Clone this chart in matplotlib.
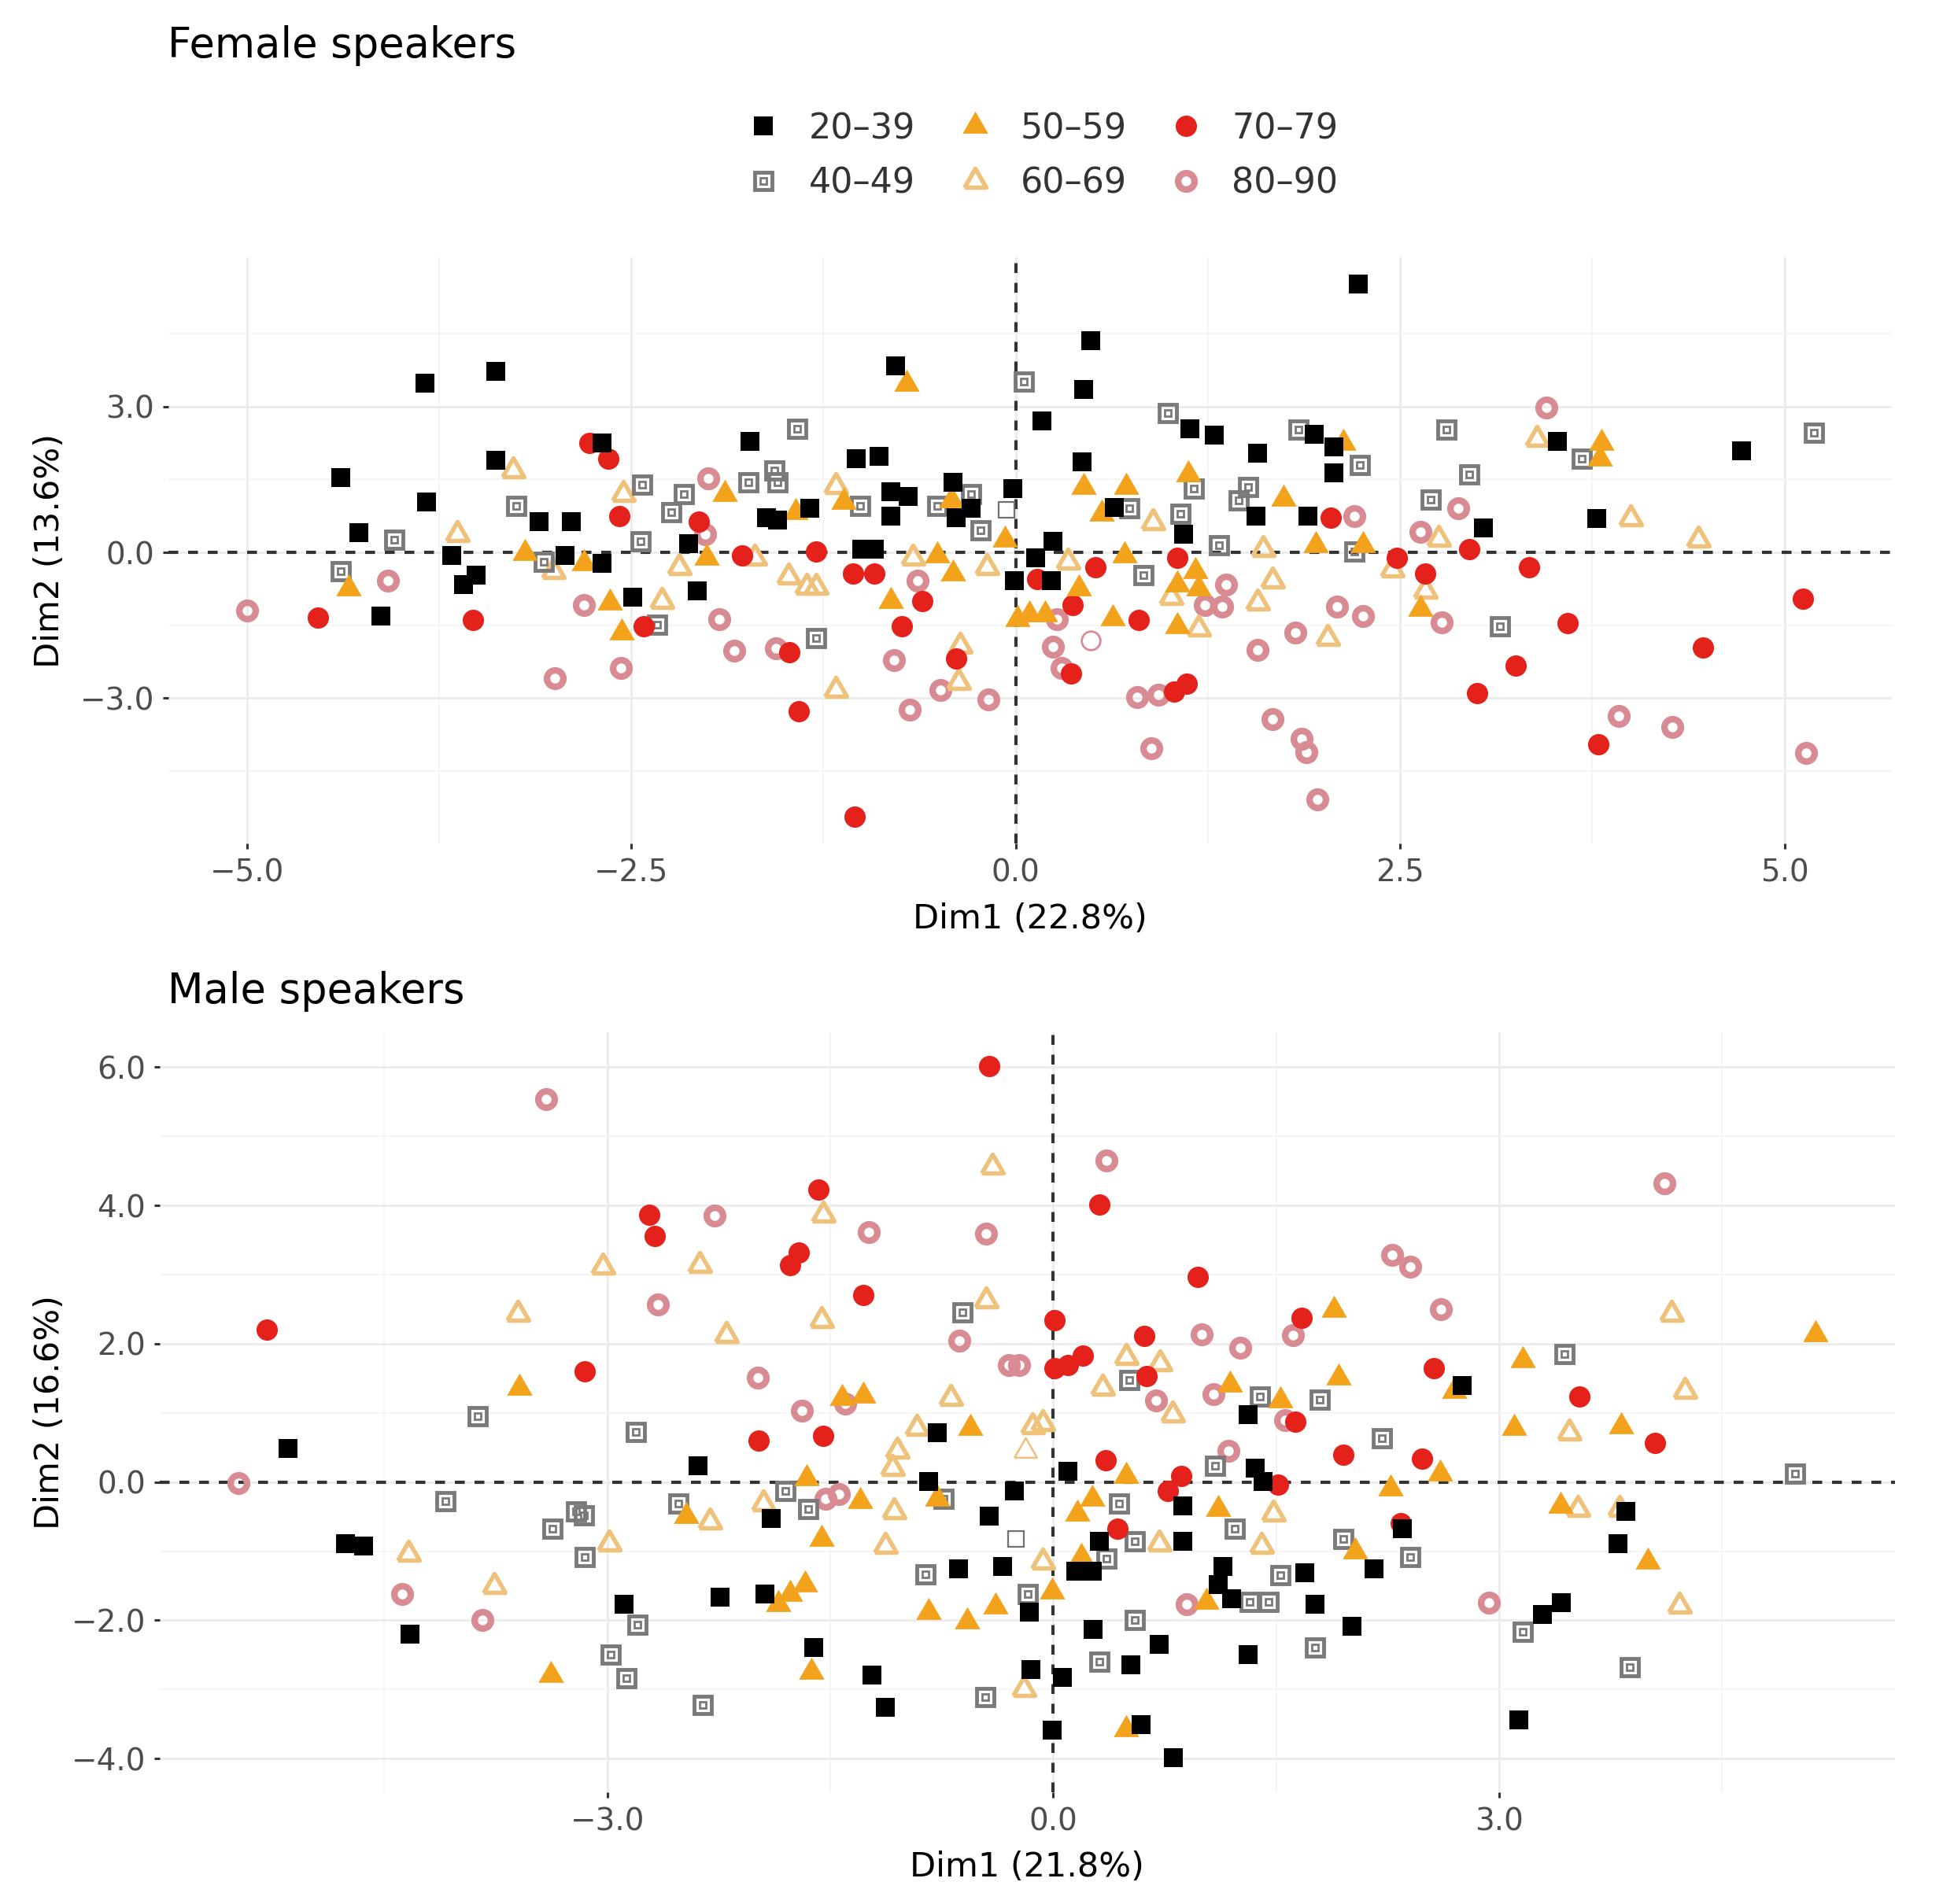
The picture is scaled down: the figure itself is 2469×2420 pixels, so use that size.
import matplotlib
matplotlib.use("Agg")
import matplotlib.pyplot as plt
from matplotlib.lines import Line2D
from matplotlib.legend_handler import HandlerTuple
import numpy as np

plt.rcParams["font.family"] = ["DejaVu Sans"]
plt.rcParams["axes.unicode_minus"] = True

age_groups = ["20–39", "40–49", "50–59", "60–69", "70–79", "80–90"]

# ---------------- Female speakers (Dim1, Dim2) ----------------
f_20_39 = [(-4.39, 1.54), (-3.84, 3.49), (-3.38, 3.72), (-3.38, 1.89), (-3.83, 1.03), (-4.27, 0.40),
           (-3.67, -0.07), (-3.51, -0.47), (-3.59, -0.67), (-4.13, -1.32), (-3.10, 0.63), (-2.89, 0.63),
           (-2.93, -0.07), (-2.69, -0.23), (-2.69, 2.25), (-2.49, -0.92), (-2.13, 0.18), (-2.07, -0.80),
           (-1.73, 2.29), (-1.62, 0.71), (-1.55, 0.67), (-1.34, 0.91), (-1.04, 1.93), (-0.89, 1.97),
           (-0.78, 3.84), (-0.81, 1.24), (-0.70, 1.15), (-0.81, 0.75), (-1.00, 0.06), (-0.92, 0.06),
           (-0.41, 1.44), (-0.29, 0.91), (-0.39, 0.71), (-0.02, 1.32), (-0.01, -0.59), (0.13, -0.11),
           (0.24, 0.22), (0.23, -0.59), (0.17, 2.70), (0.44, 3.35), (0.49, 4.36), (0.43, 1.86),
           (0.64, 0.93), (1.09, 0.38), (1.13, 2.55), (1.29, 2.42), (1.56, 0.75), (1.57, 2.04),
           (1.90, 0.75), (1.94, 2.43), (2.07, 2.17), (2.07, 1.64), (2.23, 5.52), (3.04, 0.50),
           (3.52, 2.29), (3.78, 0.69), (4.72, 2.09)]
f_40_49 = [(-4.04, 0.26), (-3.25, 0.95), (-3.07, -0.19), (-4.39, -0.39), (-2.43, 1.40), (-2.44, 0.22),
           (-2.16, 1.20), (-2.24, 0.83), (-1.74, 1.44), (-1.57, 1.68), (-1.55, 1.44), (-1.42, 2.54),
           (-2.33, -1.49), (-1.30, -1.77), (-1.01, 0.95), (-0.51, 0.95), (-0.29, 1.20), (-0.23, 0.46),
           (0.05, 3.51), (0.74, 0.91), (0.83, -0.47), (0.99, 2.87), (1.07, 0.79), (1.16, 1.31),
           (1.32, 0.14), (1.45, 1.07), (1.51, 1.35), (1.84, 2.53), (2.24, 1.80), (2.20, 0.02),
           (2.70, 1.09), (2.80, 2.53), (2.95, 1.60), (3.15, -1.52), (3.68, 1.93), (5.19, 2.46)]
f_50_59 = [(-4.34, -0.75), (-3.19, -0.02), (-2.81, -0.23), (-2.64, -1.04), (-2.56, -1.65), (-2.01, -0.11),
           (-1.89, 1.20), (-1.43, 0.83), (-1.12, 1.03), (-0.81, -1.00), (-0.71, 3.47), (-0.42, 1.07),
           (-0.51, -0.07), (-0.41, -0.43), (-0.07, 0.26), (0.01, -1.37), (0.09, -1.28), (0.19, -1.28),
           (0.41, -0.75), (0.44, 1.35), (0.72, 1.35), (0.56, 0.79), (0.71, -0.06), (0.63, -1.36),
           (1.12, 1.60), (1.17, -0.39), (1.05, -0.67), (1.19, -0.75), (1.05, -1.52), (1.74, 1.11),
           (1.95, 0.14), (2.26, 0.14), (2.13, 2.25), (2.63, -1.16), (3.81, 2.25), (3.80, 1.93)]
f_60_69 = [(-3.27, 1.68), (-3.63, 0.38), (-3.01, -0.39), (-2.55, 1.20), (-2.19, -0.31), (-2.30, -1.00),
           (-1.70, -0.11), (-1.48, -0.51), (-1.36, -0.72), (-1.30, -0.72), (-1.17, 1.36), (-1.17, -2.83),
           (-0.67, -0.11), (-0.36, -1.93), (-0.37, -2.67), (-0.19, -0.31), (0.34, -0.19), (0.89, 0.62),
           (1.01, -0.92), (1.19, -1.57), (1.61, 0.06), (1.67, -0.59), (1.57, -1.04), (2.03, -1.77),
           (2.45, -0.35), (2.75, 0.28), (2.66, -0.79), (3.39, 2.33), (4.00, 0.69), (4.44, 0.26)]
f_70_79 = [(-4.54, -1.34), (-3.53, -1.40), (-2.77, 2.25), (-2.65, 1.93), (-2.58, 0.75), (-2.42, -1.53),
           (-2.06, 0.63), (-1.78, -0.07), (-1.30, 0.02), (-1.47, -2.06), (-1.41, -3.28), (-1.05, -5.45),
           (-1.06, -0.43), (-0.92, -0.43), (-0.61, -1.00), (-0.74, -1.53), (-0.39, -2.18), (0.14, -0.55),
           (0.37, -1.08), (0.36, -2.50), (0.52, -0.31), (0.80, -1.40), (1.05, -0.11), (1.03, -2.86),
           (1.11, -2.70), (2.05, 0.71), (2.48, -0.12), (2.66, -0.43), (2.95, 0.06), (3.00, -2.90),
           (3.25, -2.34), (3.34, -0.31), (3.59, -1.45), (3.79, -3.95), (4.47, -1.96), (5.12, -0.96)]
f_80_90 = [(-5.00, -1.20), (-4.08, -0.59), (-3.00, -2.59), (-2.81, -1.08), (-2.57, -2.38), (-2.02, 0.38),
           (-2.00, 1.52), (-1.93, -1.37), (-1.83, -2.02), (-1.56, -1.98), (-0.64, -0.59), (-0.79, -2.22),
           (-0.69, -3.24), (-0.49, -2.83), (-0.18, -3.03), (0.27, -1.37), (0.24, -1.94), (0.30, -2.38),
           (0.79, -2.98), (0.93, -2.94), (0.88, -4.04), (1.23, -1.08), (1.34, -1.12), (1.37, -0.67),
           (1.57, -2.01), (1.67, -3.43), (1.82, -1.65), (1.86, -3.84), (1.89, -4.12), (1.96, -5.09),
           (2.09, -1.12), (2.20, 0.75), (2.26, -1.32), (2.63, 0.42), (2.77, -1.44), (2.88, 0.91),
           (3.45, 2.98), (3.92, -3.37), (4.27, -3.59), (5.14, -4.13)]
# points drawn with a thin outline only
f_thin_square = [(-0.06, 0.87)]
f_thin_circle = [(0.49, -1.81)]

# ---------------- Male speakers (Dim1, Dim2) ----------------
m_20_39 = [(-5.15, 0.49), (-4.76, -0.89), (-4.64, -0.93), (-4.33, -2.20), (-2.89, -1.77), (-2.39, 0.23),
           (-2.24, -1.66), (-1.94, -1.62), (-1.90, -0.53), (-1.61, -2.39), (-1.22, -2.79), (-1.13, -3.26),
           (-0.84, 0.01), (-0.78, 0.71), (-0.26, -0.13), (-0.64, -1.26), (-0.43, -0.49), (-0.34, -1.22),
           (-0.16, -1.88), (-0.15, -2.71), (-0.01, -3.59), (0.06, -2.82), (0.10, 0.16), (0.15, -1.29),
           (0.26, -1.29), (0.27, -2.13), (0.31, -0.86), (0.52, -2.64), (0.59, -3.51), (0.71, -2.35),
           (0.81, -3.99), (0.87, -0.35), (0.87, -0.86), (1.11, -1.48), (1.14, -1.22), (1.20, -1.69),
           (1.31, 0.97), (1.31, -2.49), (1.36, 0.20), (1.41, 0.01), (1.69, -1.31), (1.76, -1.77),
           (2.01, -2.09), (2.16, -1.26), (2.35, -0.68), (2.75, 1.40), (3.13, -3.44), (3.29, -1.91),
           (3.42, -1.75), (3.80, -0.89), (3.85, -0.42)]
m_40_49 = [(-3.87, 0.95), (-4.09, -0.28), (-3.37, -0.68), (-3.21, -0.42), (-3.16, -0.48), (-3.15, -1.08),
           (-2.98, -2.50), (-2.87, -2.84), (-2.81, 0.73), (-2.80, -2.06), (-2.52, -0.31), (-2.36, -3.22),
           (-1.80, -0.13), (-1.65, -0.39), (-0.86, -1.33), (-0.74, -0.24), (-0.61, 2.45), (-0.46, -3.11),
           (-0.17, -1.62), (0.36, -1.11), (0.31, -2.60), (0.44, -0.31), (0.51, 1.47), (0.55, -0.86),
           (0.55, -1.99), (1.09, 0.23), (1.22, -0.68), (1.32, -1.73), (1.45, -1.73), (1.39, 1.24),
           (1.53, -1.35), (1.76, -2.39), (1.79, 1.19), (1.95, -0.82), (2.21, 0.63), (2.40, -1.08),
           (3.16, -2.17), (3.44, 1.85), (3.88, -2.68), (4.99, 0.12)]
m_50_59 = [(-3.59, 1.36), (-3.38, -2.79), (-2.47, -0.49), (-1.85, -1.77), (-1.77, -1.62), (-1.67, -1.48),
           (-1.66, 0.05), (-1.63, -2.75), (-1.56, -0.82), (-1.42, 1.21), (-1.28, 1.25), (-1.30, -0.28),
           (-0.84, -1.88), (-0.78, -0.24), (-0.58, -2.02), (-0.56, 0.78), (-0.39, -1.80), (-0.01, -1.59),
           (0.19, -1.08), (0.16, -0.46), (0.26, -0.24), (0.49, 0.09), (0.49, -3.58), (1.03, -1.73),
           (1.11, -0.39), (1.19, 1.41), (1.53, 1.18), (1.89, 2.49), (1.92, 1.51), (2.03, -1.00),
           (2.27, -0.09), (2.60, 0.12), (2.70, 1.32), (3.10, 0.78), (3.16, 1.76), (3.41, -0.35),
           (3.82, 0.81), (4.00, -1.15), (5.13, 2.14)]
m_60_69 = [(-4.34, -1.04), (-3.76, -1.51), (-3.60, 2.43), (-3.03, 3.11), (-2.99, -0.89), (-2.38, 3.14),
           (-2.31, -0.57), (-2.20, 2.12), (-1.95, -0.31), (-1.56, 2.34), (-1.55, 3.87), (-1.13, -0.93),
           (-1.07, -0.42), (-1.05, 0.45), (-1.08, 0.20), (-0.92, 0.78), (-0.69, 1.21), (-0.45, 2.63),
           (-0.41, 4.56), (-0.14, 0.81), (-0.07, 0.85), (-0.07, -1.15), (-0.20, -3.00), (0.33, 1.36),
           (0.49, 1.80), (0.72, 1.72), (0.71, -0.89), (0.80, 0.97), (1.40, -0.93), (1.48, -0.46),
           (3.47, 0.71), (3.53, -0.39), (3.81, -0.39), (4.16, 2.43), (4.21, -1.79), (4.25, 1.32)]
m_70_79 = [(-5.29, 2.20), (-3.15, 1.60), (-2.72, 3.87), (-2.68, 3.56), (-1.98, 0.60), (-1.77, 3.14),
           (-1.71, 3.32), (-1.58, 4.23), (-1.55, 0.67), (-1.28, 2.71), (-0.43, 6.01), (0.01, 2.34),
           (0.01, 1.65), (0.10, 1.69), (0.20, 1.83), (0.31, 4.01), (0.35, 0.31), (0.43, -0.68),
           (0.61, 2.11), (0.63, 1.53), (0.77, -0.13), (0.86, 0.09), (0.97, 2.97), (1.51, -0.04),
           (1.63, 0.87), (1.67, 2.38), (1.95, 0.39), (2.34, -0.60), (2.48, 0.34), (2.56, 1.65),
           (3.54, 1.24), (4.05, 0.56)]
m_80_90 = [(-5.48, -0.02), (-4.38, -1.62), (-3.84, -1.99), (-3.41, 5.54), (-2.66, 2.57), (-2.28, 3.85),
           (-1.99, 1.51), (-1.69, 1.03), (-1.53, -0.24), (-1.44, -0.17), (-1.40, 1.14), (-1.24, 3.61),
           (-0.63, 2.04), (-0.45, 3.59), (-0.23, 1.69), (-0.30, 1.69), (0.36, 4.65), (0.69, 1.18),
           (0.90, -1.77), (1.00, 2.14), (1.08, 1.27), (1.18, 0.45), (1.26, 1.94), (1.56, 0.89),
           (1.61, 2.12), (2.28, 3.29), (2.40, 3.11), (2.61, 2.50), (2.93, -1.75), (4.11, 4.32)]
m_thin_square = [(-0.25, -0.82)]
m_thin_triangle = [(-0.19, 0.45)]

# axis ticks / labels
f_xticks = [-5.0, -2.5, 0.0, 2.5, 5.0]
f_xminor = [-3.75, -1.25, 1.25, 3.75]
f_yticks = [-3.0, 0.0, 3.0]
f_yminor = [-4.5, -1.5, 1.5, 4.5]
m_xticks = [-3.0, 0.0, 3.0]
m_xminor = [-4.5, -1.5, 1.5, 4.5]
m_yticks = [-4.0, -2.0, 0.0, 2.0, 4.0, 6.0]
m_yminor = [-3.0, -1.0, 1.0, 3.0, 5.0]

# colours
GREY = "#7a7a7a"
ORANGE = "#f2a21b"
LIGHT_ORANGE = "#efc27c"
RED = "#e4221b"
PINK = "#d98b93"

# equilateral triangle, closed so the open version draws all three sides
TRI = [(-1.0, -0.577), (1.0, -0.577), (0.0, 1.155), (-1.0, -0.577)]

styles = {
    "20–39": dict(marker="s", markersize=17.5, markerfacecolor="black", markeredgecolor="black", markeredgewidth=0),
    "40–49": dict(marker="s", markersize=16, markerfacecolor="none", markeredgecolor=GREY, markeredgewidth=3.5),
    "50–59": dict(marker=TRI, markersize=26, markerfacecolor=ORANGE, markeredgecolor=ORANGE, markeredgewidth=0.5),
    "60–69": dict(marker=TRI, markersize=23, markerfacecolor="none", markeredgecolor=LIGHT_ORANGE, markeredgewidth=4),
    "70–79": dict(marker="o", markersize=19.5, markerfacecolor=RED, markeredgecolor=RED, markeredgewidth=0),
    "80–90": dict(marker="o", markersize=15, markerfacecolor="none", markeredgecolor=PINK, markeredgewidth=6),
}
inner_square = dict(marker="s", markersize=6, markerfacecolor="none", markeredgecolor=GREY, markeredgewidth=2)

draw_order = ["80–90", "60–69", "40–49", "70–79", "50–59", "20–39"]

TEXT_GREY = "#4d4d4d"


def expand(values):
    # ggplot style 5% expansion
    lo, hi = min(values), max(values)
    pad = (hi - lo) * 0.05
    return lo - pad, hi + pad


def draw_panel(ax, groups, thin, xticks, xminor, yticks, yminor, xlabel, ylabel):
    for name in draw_order:
        pts = np.array(groups[name])
        ax.plot(pts[:, 0], pts[:, 1], ls="none", zorder=3, **styles[name])
        if name == "40–49":
            ax.plot(pts[:, 0], pts[:, 1], ls="none", zorder=3, **inner_square)
    for pts, st in thin:
        pts = np.array(pts)
        ax.plot(pts[:, 0], pts[:, 1], ls="none", zorder=3, **st)

    allpts = np.vstack([np.array(g) for g in groups.values()])
    ax.set_xlim(*expand(allpts[:, 0]))
    ax.set_ylim(*expand(allpts[:, 1]))

    ax.axhline(0, color="#333333", lw=3.0, ls=(0, (3, 3)), zorder=2)
    ax.axvline(0, color="#333333", lw=3.0, ls=(0, (3, 3)), zorder=2)

    ax.set_xticks(xticks)
    ax.set_xticklabels([f"{v:.1f}".replace("-", "\u2212") for v in xticks])
    ax.set_yticks(yticks)
    ax.set_yticklabels([f"{v:.1f}".replace("-", "\u2212") for v in yticks])
    ax.set_xticks(xminor, minor=True)
    ax.set_yticks(yminor, minor=True)

    ax.grid(which="major", color="#ebebeb", lw=2.0)
    ax.grid(which="minor", color="#f3f3f3", lw=1.2)
    ax.set_axisbelow(True)
    for sp in ax.spines.values():
        sp.set_visible(False)
    ax.tick_params(which="major", length=5, width=2.2, color="#333333",
                   labelsize=28, labelcolor=TEXT_GREY, pad=8)
    ax.tick_params(which="minor", length=0)

    ax.set_xlabel(xlabel, fontsize=31, color="black")
    ax.set_ylabel(ylabel, fontsize=31, color="black")


fig = plt.figure(figsize=(24.69, 24.20), dpi=100)

# positions measured on the reference (pixels of a 1568 x 1537 view)
W, H = 1568.0, 1537.0
ax_f = fig.add_axes([136 / W, 1 - 681 / H, 1391 / W, 473 / H])
ax_m = fig.add_axes([129 / W, 1 - 1447 / H, 1400 / W, 614 / H])

female = {"20–39": f_20_39, "40–49": f_40_49, "50–59": f_50_59,
          "60–69": f_60_69, "70–79": f_70_79, "80–90": f_80_90}
male = {"20–39": m_20_39, "40–49": m_40_49, "50–59": m_50_59,
        "60–69": m_60_69, "70–79": m_70_79, "80–90": m_80_90}

thin_sq = dict(marker="s", markersize=15, markerfacecolor="white", markeredgecolor="#707070", markeredgewidth=1.6)
thin_circ = dict(marker="o", markersize=17, markerfacecolor="white", markeredgecolor=PINK, markeredgewidth=2.0)
thin_tri = dict(marker=TRI, markersize=24, markerfacecolor="white", markeredgecolor=LIGHT_ORANGE, markeredgewidth=1.8)

draw_panel(ax_f, female, [(f_thin_square, thin_sq), (f_thin_circle, thin_circ)],
           f_xticks, f_xminor, f_yticks, f_yminor, "Dim1 (22.8%)", "Dim2 (13.6%)")
draw_panel(ax_m, male, [(m_thin_square, thin_sq), (m_thin_triangle, thin_tri)],
           m_xticks, m_xminor, m_yticks, m_yminor, "Dim1 (21.8%)", "Dim2 (16.6%)")

# axis title positions
ax_f.xaxis.set_label_coords(0.5, -(742 - 681) / 473)
ax_f.xaxis.label.set_va("center")
ax_f.yaxis.set_label_coords((40 - 136) / 1391, 0.5)
ax_f.yaxis.label.set_va("center")
ax_m.xaxis.set_label_coords(0.5, -(1507 - 1447) / 614)
ax_m.xaxis.label.set_va("center")
ax_m.yaxis.set_label_coords((40 - 129) / 1400, 0.5)
ax_m.yaxis.label.set_va("center")

fig.text(135 / W, 1 - 37 / H, "Female speakers", fontsize=38, ha="left", va="center", color="black")
fig.text(135 / W, 1 - 800 / H, "Male speakers", fontsize=38, ha="left", va="center", color="black")

# legend
handles = []
for name in age_groups:
    h = Line2D([], [], ls="none", **styles[name])
    if name == "40–49":
        h = (h, Line2D([], [], ls="none", **inner_square))
    handles.append(h)
fig.legend(handles, age_groups, loc="center", bbox_to_anchor=(841 / W, 1 - 126 / H),
           ncol=3, frameon=False, fontsize=32, labelcolor="#333333",
           handlelength=1.0, handletextpad=0.8, columnspacing=1.2, labelspacing=0.6,
           handler_map={tuple: HandlerTuple(ndivide=1, pad=0)})

fig.savefig("out.png", dpi=100, facecolor="white")
